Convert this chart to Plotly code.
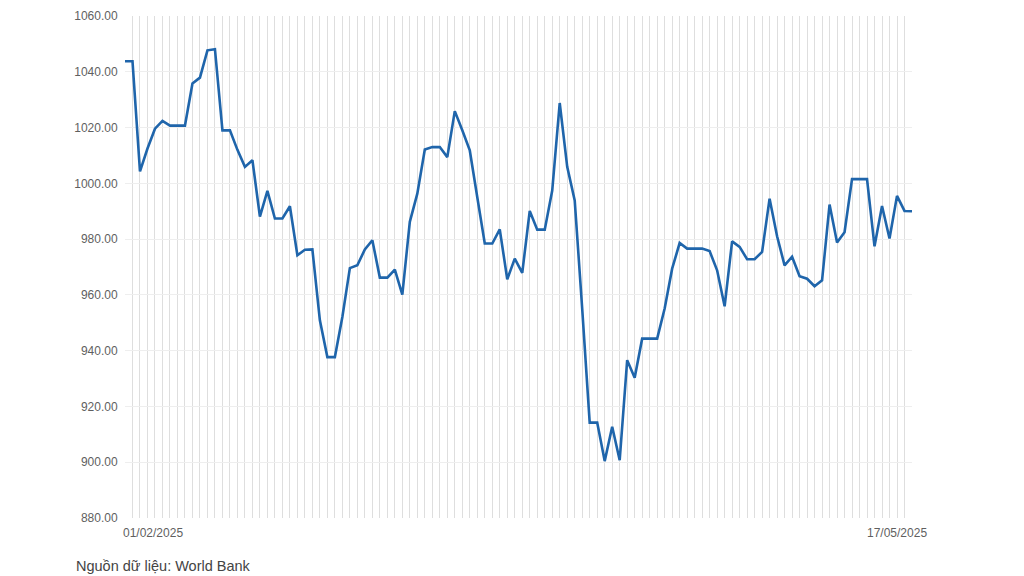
import pandas as pd
import plotly.graph_objects as go

start_date = "2025-02-01"
end_date = "2025-05-17"
first_label = "01/02/2025"
last_label = "17/05/2025"
source_text = "Nguồn dữ liệu: World Bank"

values = [
    1043.8, 1043.8, 1004.3, 1012.5, 1019.6, 1022.4, 1020.7, 1020.7, 1020.7, 1035.8,
    1037.9, 1047.7, 1048.1, 1019.0, 1019.0, 1012.0, 1005.9, 1008.3, 988.1, 997.3,
    987.4, 987.4, 991.8, 974.2, 976.2, 976.3, 950.9, 937.7, 937.7, 952.1,
    969.6, 970.6, 976.3, 979.6, 966.2, 966.2, 969.1, 960.1, 986.2, 996.3,
    1012.1, 1013.0, 1013.0, 1009.4, 1025.9, 1019.0, 1011.8, 995.0, 978.4, 978.4,
    983.5, 965.6, 973.0, 967.9, 990.1, 983.4, 983.4, 997.4, 1028.8, 1005.9,
    993.9, 955.0, 914.2, 914.2, 900.4, 912.7, 900.7, 936.6, 930.3, 944.3,
    944.3, 944.3, 955.1, 969.4, 978.6, 976.6, 976.6, 976.6, 975.7, 968.8,
    955.9, 979.2, 977.2, 972.8, 972.8, 975.4, 994.5, 981.0, 970.6, 973.7,
    966.7, 965.8, 963.1, 965.2, 992.4, 978.8, 982.5, 1001.5, 1001.5, 1001.5,
    977.4, 991.9, 980.2, 995.5, 990.1, 990.0,
]
dates = pd.date_range(start_date, end_date, freq="D")

W, H = 1024, 576
ML, MR, MT, MB = 125, 112, 16, 58

fig = go.Figure()
fig.add_trace(go.Scatter(
    x=dates, y=values, mode="lines",
    line=dict(color="#1f65ab", width=2.6),
    hoverinfo="x+y", showlegend=False,
))

fig.update_layout(
    width=W, height=H,
    margin=dict(l=ML, r=MR, t=MT, b=MB, autoexpand=False),
    paper_bgcolor="white", plot_bgcolor="white",
    font=dict(family="Liberation Sans, Arial, sans-serif", color="#666666", size=12),
    xaxis=dict(
        type="date",
        range=[dates[0], dates[-1]],
        tick0=dates[0], dtick=86400000,
        showgrid=True, gridcolor="#dedede", gridwidth=1,
        showticklabels=False, zeroline=False, showline=False,
        ticks="",
    ),
    yaxis=dict(
        range=[880, 1060], dtick=20, tickformat=".2f",
        showgrid=True, gridcolor="#eeeeee", gridwidth=1,
        zeroline=False, showline=False,
        ticks="outside", ticklen=4, tickcolor="white",
        tickfont=dict(size=12, color="#5f5f5f"),
    ),
    annotations=[
        dict(x=dates[0], y=0, xref="x", yref="paper", text=first_label,
             xanchor="left", yanchor="top", showarrow=False, xshift=-4, yshift=-6,
             font=dict(size=12, color="#5f5f5f")),
        dict(x=dates[-1], y=0, xref="x", yref="paper", text=last_label,
             xanchor="right", yanchor="top", showarrow=False, xshift=17, yshift=-6,
             font=dict(size=12, color="#5f5f5f")),
        dict(x=(74 - ML) / (W - ML - MR), y=-(566 - (H - MB)) / (H - MT - MB),
             xref="paper", yref="paper", text=source_text,
             xanchor="left", yanchor="middle", showarrow=False,
             font=dict(size=14.5, color="#444444")),
    ],
)

fig.write_html(
    "out.html",
    config={"displayModeBar": False},
    post_script="document.body.style.margin='0';document.body.style.padding='0';document.body.style.overflow='hidden';",
)
